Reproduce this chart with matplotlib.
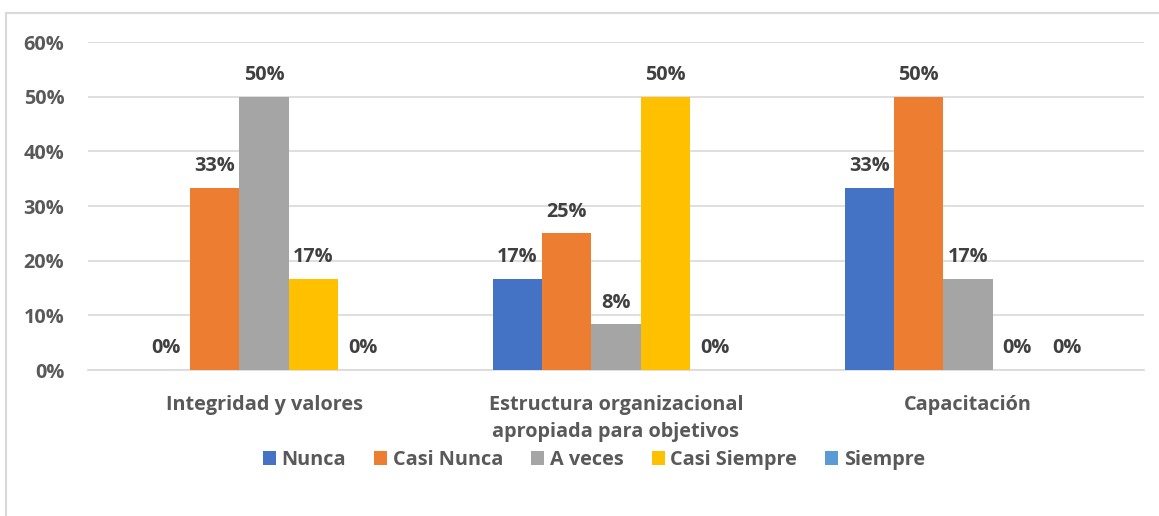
import matplotlib
matplotlib.use("Agg")
import matplotlib.pyplot as plt
from matplotlib.patches import Rectangle
import numpy as np

categories = ["Integridad y valores", "Estructura organizacional\napropiada para objetivos", "Capacitación"]
series_names = ["Nunca", "Casi Nunca", "A veces", "Casi Siempre", "Siempre"]
nunca = [0.0, 16.67, 33.33]
casi_nunca = [33.33, 25.0, 50.0]
a_veces = [50.0, 8.33, 16.67]
casi_siempre = [16.67, 50.0, 0.0]
siempre = [0.0, 0.0, 0.0]
yticks = [0, 10, 20, 30, 40, 50, 60]

colors = ["#4472C4", "#ED7D31", "#A5A5A5", "#FFC000", "#5B9BD5"]
plt.rcParams['font.family'] = ['Open Sans', 'DejaVu Sans']
FS = 14.3

fig = plt.figure(figsize=(11.59, 5.16), dpi=100)
ax = fig.add_axes([88/1159, 1-370/516, (1144-88)/1159, (370-42)/516])

data = [nunca, casi_nunca, a_veces, casi_siempre, siempre]
x = np.arange(len(categories))
bw = 0.14
for i, (vals, name, c) in enumerate(zip(data, series_names, colors)):
    pos = x + (i - 2) * bw
    ax.bar(pos, vals, width=bw, color=c, label=name, zorder=3)
    for p, v in zip(pos, vals):
        ax.annotate(f"{v:.0f}%", (p, v), xytext=(0, 8.5), textcoords="offset points",
                    ha="center", va="bottom", fontsize=FS, fontweight="bold", color="#404040")

ax.set_xlim(-0.5, 2.5)
ax.set_ylim(0, 60)
ax.set_yticks(yticks)
ax.set_yticklabels([f"{t}%" for t in yticks], fontsize=FS, fontweight="bold", color="#595959")
ax.set_xticks(x)
ax.set_xticklabels(categories, fontsize=FS, fontweight="bold", color="#595959", linespacing=1.5)
ax.tick_params(axis="both", length=0)
ax.tick_params(axis="y", pad=17)
ax.tick_params(axis="x", pad=18)
ax.grid(axis="y", color="#D9D9D9", linewidth=1.2, zorder=0)
for s in ["top", "right", "left"]:
    ax.spines[s].set_visible(False)
ax.spines["bottom"].set_color("#D9D9D9")
ax.spines["bottom"].set_linewidth(1.2)

leg = fig.legend(loc="center", bbox_to_anchor=(594/1159, 1-460/516), ncol=5, frameon=False,
                 prop={"size": FS, "weight": "bold"}, handlelength=0.65, handleheight=0.65,
                 handletextpad=0.3, columnspacing=1.4)
for t in leg.get_texts():
    t.set_color("#595959")

fig.patches.append(Rectangle((6/1159, -0.1), 1.2, 1-13/516+0.1, transform=fig.transFigure,
                             fill=False, edgecolor="#D9D9D9", linewidth=1.5))

fig.savefig("out.png", dpi=100)
